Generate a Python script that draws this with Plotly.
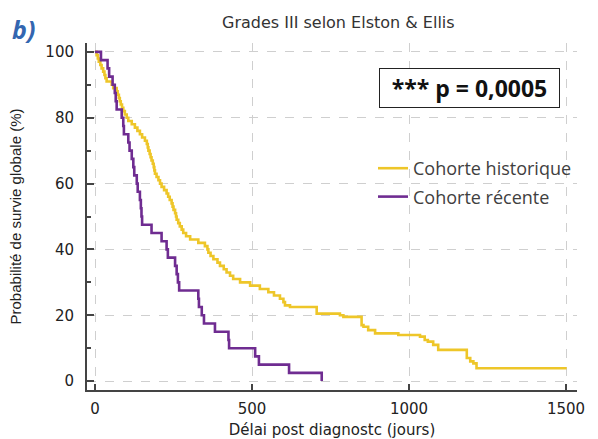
import plotly.graph_objects as go

# ---- data ----
hist_days = [0, 5, 9, 12, 17, 21, 26, 30, 33, 37, 53, 58, 69, 72, 76, 79, 82, 86, 90, 95,
             101, 106, 117, 127, 135, 143, 150, 159, 165, 168, 170, 174, 177, 180, 184, 187,
             189, 191, 196, 202, 207, 212, 220, 228, 233, 238, 244, 247, 250, 255, 258, 260,
             265, 270, 276, 281, 290, 303, 329, 350, 358, 361, 368, 377, 390, 398, 410, 419,
             430, 440, 462, 494, 525, 552, 570, 589, 600, 605, 621, 706, 780, 791, 849, 855,
             870, 892, 966, 1035, 1050, 1060, 1077, 1093, 1184, 1195, 1205, 1215, 1502]
hist_surv = [100, 99, 98, 97, 96, 95, 94, 93, 92, 91, 90, 89, 88, 87, 86, 85, 84, 83, 82, 81,
             80, 79, 78, 77, 76, 75, 74, 73, 72, 71, 70, 69, 68, 67, 66, 65,
             64, 63, 62, 61, 60, 59, 58, 57, 56, 55, 54, 53, 52, 51, 50, 49,
             48, 47, 46, 45, 44, 43, 42, 41, 40, 39, 38, 37, 36, 35, 34, 33,
             32, 31, 30, 29, 28, 27, 26, 25, 24, 23, 22.5, 20.5, 20, 19.5, 17, 16.5,
             15.5, 14.5, 14, 13.5, 12.5, 12, 11, 9.5, 7, 6, 5.4, 3.9, 3.9]

rec_days = [0, 19, 40, 45, 56, 63, 66, 69, 85, 90, 92, 106, 110, 117, 122, 125, 133, 136,
            143, 146, 148, 150, 180, 212, 228, 232, 255, 260, 264, 268, 329, 331, 340, 347,
            382, 425, 427, 510, 522, 618, 722]
rec_surv = [100, 97.5, 95, 92.5, 90, 87.5, 85, 82.5, 80, 77.5, 75, 72.5, 70, 67.5, 65, 62.5,
            60, 57.5, 55, 52.5, 50, 47.5, 45, 42.5, 40, 37.5, 35, 32.5, 30, 27.5, 25, 22.5,
            20, 17.5, 15, 12.5, 10, 7.5, 5, 2.5, 0]

series_names = ["Cohorte historique", "Cohorte récente"]
x_ticks = [0, 500, 1000, 1500]
y_ticks = [0, 20, 40, 60, 80, 100]

title_text = "Grades III selon Elston & Ellis"
x_title = "Délai post diagnostc (jours)"
y_title = "Probabilité de survie globale (%)"
pval_text = "*** p = 0,0005"

YELLOW = "#EEC629"
PURPLE = "#6F2C91"

fig = go.Figure()
fig.add_trace(go.Scatter(x=hist_days, y=hist_surv, mode="lines", name=series_names[0],
                         legendgroup="g1",
                         line=dict(color=YELLOW, width=2.6, shape="hv")))
fig.add_trace(go.Scatter(x=rec_days, y=rec_surv, mode="lines", name=series_names[1],
                         legendgroup="g2",
                         line=dict(color=PURPLE, width=2.6, shape="hv")))

tick_font = dict(family="DejaVu Sans, sans-serif", size=15, color="#222222")

fig.update_layout(
    width=598, height=439,
    margin=dict(l=87, r=21, t=43, b=49, autoexpand=False),
    paper_bgcolor="white", plot_bgcolor="white",
    showlegend=True,
    legend=dict(x=(373 - 87) / 490, y=1 - (150 - 43) / 347, xanchor="left", yanchor="top",
                font=dict(family="Open Sans, sans-serif", size=18, color="#404040"),
                bgcolor="rgba(0,0,0,0)", itemwidth=30, tracegroupgap=2),
    xaxis=dict(range=[-25.5, 1535], tickvals=x_ticks, ticks="inside", ticklen=6,
               tickcolor="#444", tickwidth=1.5, automargin=False, ticklabelstandoff=4,
               showline=True, linecolor="#444", linewidth=2,
               showgrid=True, gridcolor="#cfcfcf", griddash="dash", gridwidth=1,
               zeroline=False, tickfont=tick_font,
               title=dict(text=x_title, font=dict(family="DejaVu Sans, sans-serif",
                                                  size=15, color="#222"), standoff=8)),
    yaxis=dict(range=[-2.7, 102.7], tickvals=y_ticks, ticks="inside", ticklen=7,
               tickcolor="#444", tickwidth=1.5, automargin=False, ticklabelstandoff=8,
               showline=True, linecolor="#444", linewidth=2,
               showgrid=True, gridcolor="#cfcfcf", griddash="dash", gridwidth=1,
               zeroline=False, tickfont=tick_font,
               minor=dict(dtick=10, tick0=0, ticks="inside", ticklen=4, tickcolor="#444",
                          showgrid=False),
               title=dict(text=y_title, font=dict(family="Liberation Sans, Arial, sans-serif",
                                                  size=15, color="#222"), standoff=20)),
)

fig.add_annotation(text=title_text, xref="paper", yref="paper",
                   x=(338 - 87) / 490, y=1 + (43 - 22) / 347, xanchor="center", yanchor="middle",
                   showarrow=False,
                   font=dict(family="DejaVu Sans, sans-serif", size=16, color="#333"))
fig.add_annotation(text="<i><b>b)</b></i>", xref="paper", yref="paper",
                   x=(10 - 87) / 490, y=1 + (43 - 29) / 347, xanchor="left", yanchor="middle",
                   showarrow=False,
                   font=dict(family="Open Sans, sans-serif", size=25, color="#3366B0"))
fig.add_annotation(text="<b>" + pval_text + "</b>", xref="paper", yref="paper",
                   x=(469.5 - 87) / 490, y=1 - (88 - 43) / 347, xanchor="center", yanchor="middle",
                   showarrow=False, bordercolor="#222", borderwidth=1, borderpad=0,
                   bgcolor="white", width=179, height=38,
                   font=dict(family="Open Sans, sans-serif", size=23, color="#111"))

fig.write_html("out.html", config={"displayModeBar": False},
               post_script="document.body.style.margin='0';document.body.style.padding='0';"
                           "document.documentElement.style.overflow='hidden';")
